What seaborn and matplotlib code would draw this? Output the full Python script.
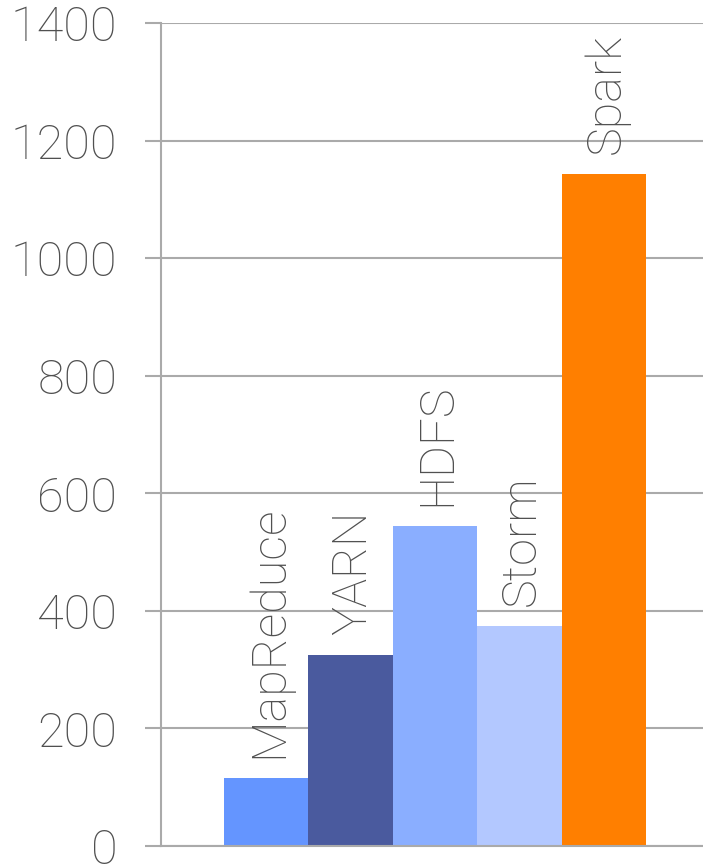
import matplotlib
matplotlib.use("Agg")
import matplotlib.pyplot as plt
import seaborn as sns
import pandas as pd

categories = ["MapReduce", "YARN", "HDFS", "Storm", "Spark"]
values = [115, 325, 544, 374, 1143]
colors = ["#6495FF", "#4A5A9E", "#8AAEFF", "#B3C8FF", "#FF7F00"]
yticks = [0, 200, 400, 600, 800, 1000, 1200, 1400]

sns.set_style("white")
plt.rcParams["font.family"] = ["Roboto", "DejaVu Sans"]

df = pd.DataFrame({"cat": categories, "val": values})

fig = plt.figure(figsize=(7.03, 8.67), dpi=100)
ax = fig.add_axes([0.229, 0.0242, 0.771, 0.9493])

sns.barplot(data=df, x="cat", y="val", hue="cat", palette=colors,
            width=1.0, legend=False, ax=ax, saturation=1, linewidth=0)

ax.set_xlim(-1.245, 5.175)
ax.set_ylim(0, 1400)
ax.set_yticks(yticks)
ax.set_yticklabels([str(t) for t in yticks], fontsize=35, color="#505050",
                   fontweight="light")
ax.set_xticks([])
ax.set_xlabel("")
ax.set_ylabel("")
ax.yaxis.grid(True, color="#AAAAAA", linewidth=1.5)
ax.set_axisbelow(True)
ax.tick_params(axis="y", length=11.5, width=1.5, color="#AAAAAA", pad=20, left=True)

for s in ["top", "right"]:
    ax.spines[s].set_visible(False)
for s in ["left", "bottom"]:
    ax.spines[s].set_visible(True)
    ax.spines[s].set_color("#AAAAAA")
    ax.spines[s].set_linewidth(1.5)

for i, (c, v) in enumerate(zip(categories, values)):
    ax.text(i + 0.03, v + 34, c, rotation=90, ha="center", va="bottom",
            fontsize=35, color="#505050", fontweight="light")

fig.savefig("out.png", dpi=100)
